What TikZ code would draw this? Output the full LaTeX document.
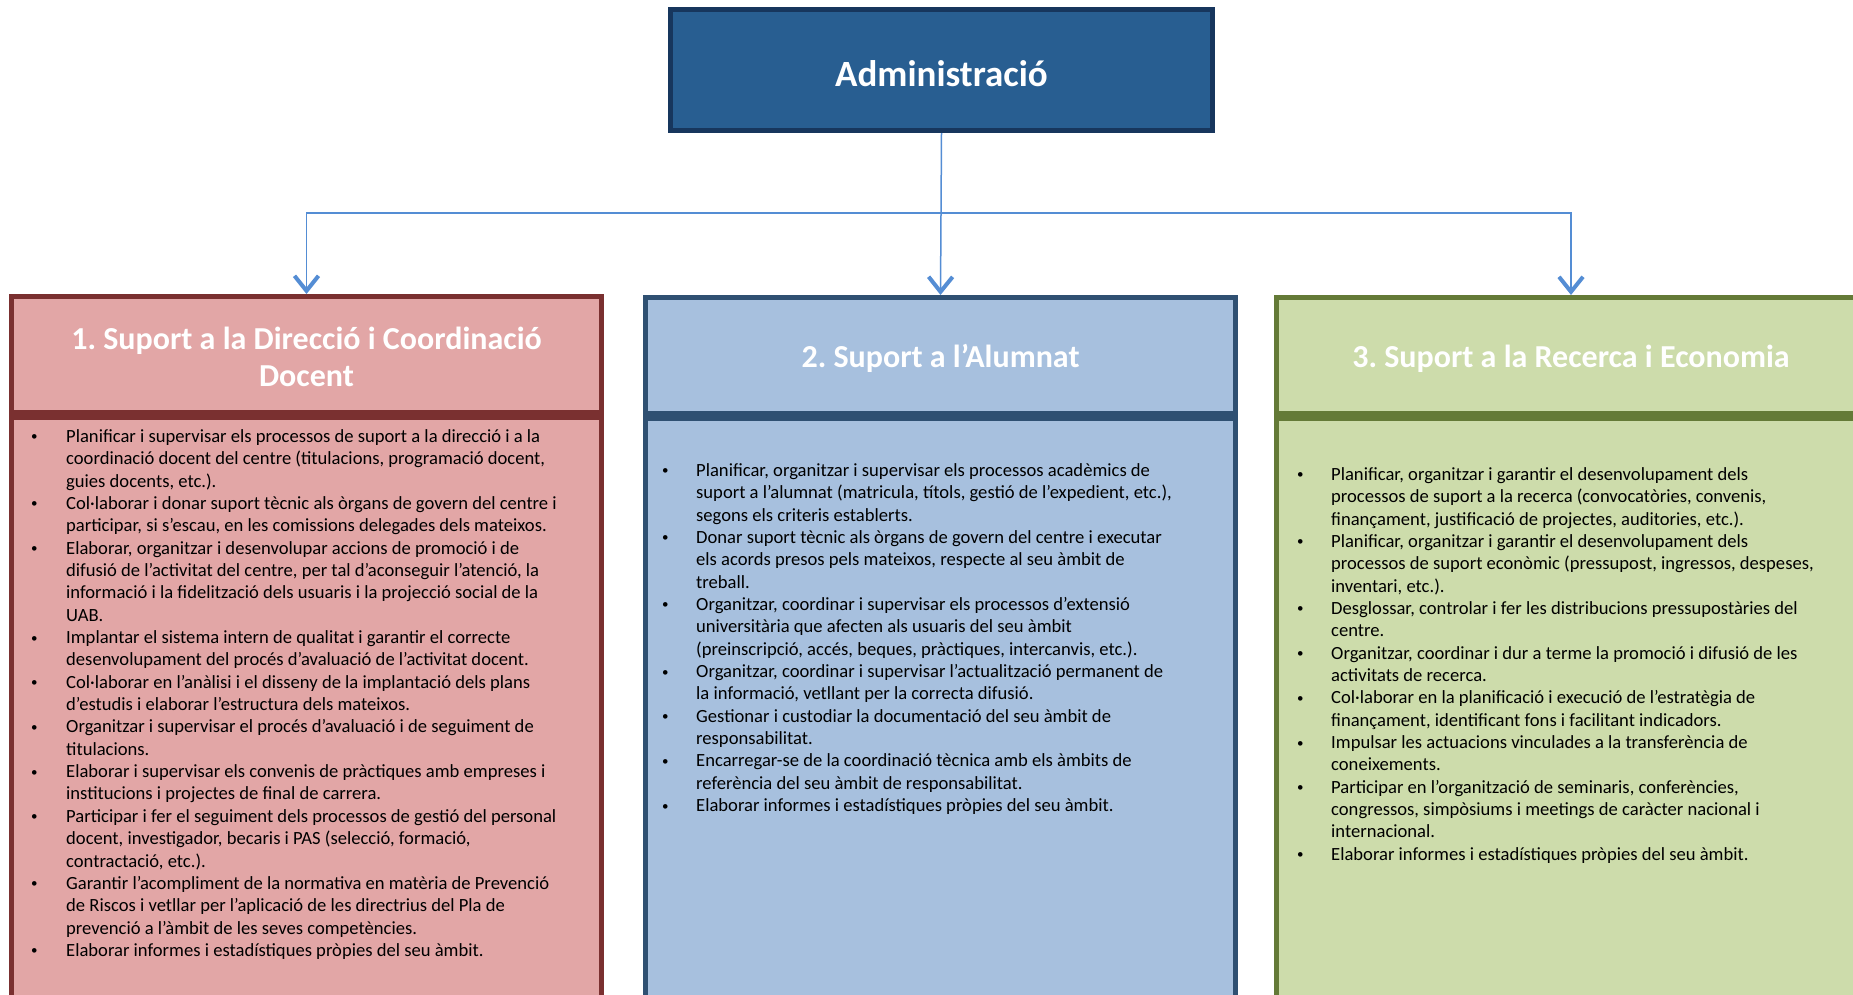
\documentclass[tikz,border=0pt]{standalone}
\usepackage{fontspec}
\setmainfont{Carlito}
\usetikzlibrary{arrows.meta,positioning}
\frenchspacing

\definecolor{admfill}{RGB}{40,94,145}
\definecolor{admline}{RGB}{23,54,93}
\definecolor{redfill}{RGB}{226,166,166}
\definecolor{redline}{RGB}{122,48,48}
\definecolor{bluefill}{RGB}{167,192,222}
\definecolor{blueline}{RGB}{47,80,114}
\definecolor{greenfill}{RGB}{205,220,171}
\definecolor{greenline}{RGB}{100,122,55}
\definecolor{linkblue}{RGB}{84,141,212}

\newcommand{\bodyfont}{\fontsize{18.6}{22.35}\selectfont}
\newcommand{\bul}{\hspace{1pt}\raisebox{1.5pt}{\fontsize{13}{13}\selectfont\textbullet}}

\tikzset{
  hdr/.style={line width=5pt,minimum width=590pt,minimum height=116pt,
    inner sep=0pt},
  hdrtext/.style={inner sep=0pt,align=center,text=white,
    font=\fontsize{32}{37}\selectfont\bfseries},
  bodybox/.style={line width=5pt,minimum width=590pt,minimum height=700pt,
    anchor=north,inner sep=0pt},
  bodytext/.style={anchor=north west,inner sep=0pt,text=black,font=\bodyfont},
  conn/.style={draw=linkblue,line width=1.5pt,
    -{Straight Barb[length=15pt,width=24pt,line width=4pt]}}
}

\begin{document}
\begin{tikzpicture}[x=1pt,y=-1pt]
\useasboundingbox (0,0) rectangle (1853,994);
\clip (0,0) rectangle (1853,994);
\fill[white] (0,0) rectangle (1853,994);

% top box
\node[draw=admline,fill=admfill,line width=5pt,minimum width=542pt,
  minimum height=121pt] (admin) at (941.5,70) {};
\node[text=white,font=\fontsize{37}{44}\selectfont\bfseries,inner sep=0pt]
  (admlabel) at ([yshift=-4pt]admin.center) {Administració};

% the three units
\node[hdr,draw=redline,fill=redfill] (hd1) at (306.5,354.5) {};
\node[bodybox,draw=redline,fill=redfill] (bd1) at (hd1.south) {};
\node[hdrtext] (hdlabel1) at ([yshift=-2.5pt]hd1.center)
  {1. Suport a la Direcció i Coordinació\\Docent};

\node[hdr,draw=blueline,fill=bluefill] (hd2) at (940.5,355.5) {};
\node[bodybox,draw=blueline,fill=bluefill] (bd2) at (hd2.south) {};
\node[hdrtext] (hdlabel2) at ([yshift=-3pt]hd2.center) {2. Suport a l’Alumnat};

\node[hdr,draw=greenline,fill=greenfill] (hd3) at (1571,355.5) {};
\node[bodybox,draw=greenline,fill=greenfill] (bd3) at (hd3.south) {};
\node[hdrtext] (hdlabel3) at ([yshift=-3pt]hd3.center)
  {3. Suport a la Recerca i Economia};

% connectors
\coordinate (bus) at (941,213);
\draw[conn] (admin.south) -- (hd2.north);
\draw[conn] (admin.south) -- (admin.south |- bus) -| (hd1.north);
\draw[conn] (admin.south) -- (admin.south |- bus) -| (hd3.north);

% lists
\node[bodytext] (list1) at (30,426.5) {\begin{tabular}{@{}p{36pt}@{}l@{}}
\bul & Planificar i supervisar els processos de suport a la direcció i a la\\
 & coordinació docent del centre (titulacions, programació docent,\\
 & guies docents, etc.).\\
\bul & Col·laborar i donar suport tècnic als òrgans de govern del centre i\\
 & participar, si s’escau, en les comissions delegades dels mateixos.\\
\bul & Elaborar, organitzar i desenvolupar accions de promoció i de\\
 & difusió de l’activitat del centre, per tal d’aconseguir l’atenció, la\\
 & informació i la fidelització dels usuaris i la projecció social de la\\
 & UAB.\\
\bul & Implantar el sistema intern de qualitat i garantir el correcte\\
 & desenvolupament del procés d’avaluació de l’activitat docent.\\
\bul & Col·laborar en l’anàlisi i el disseny de la implantació dels plans\\
 & d’estudis i elaborar l’estructura dels mateixos.\\
\bul & Organitzar i supervisar el procés d’avaluació i de seguiment de\\
 & titulacions.\\
\bul & Elaborar i supervisar els convenis de pràctiques amb empreses i\\
 & institucions i projectes de final de carrera.\\
\bul & Participar i fer el seguiment dels processos de gestió del personal\\
 & docent, investigador, becaris i PAS (selecció, formació,\\
 & contractació, etc.).\\
\bul & Garantir l’acompliment de la normativa en matèria de Prevenció\\
 & de Riscos i vetllar per l’aplicació de les directrius del Pla de\\
 & prevenció a l’àmbit de les seves competències.\\
\bul & Elaborar informes i estadístiques pròpies del seu àmbit.
\end{tabular}};

\node[bodytext] (list2) at (661,460.5) {\begin{tabular}{@{}p{35pt}@{}l@{}}
\bul & Planificar, organitzar i supervisar els processos acadèmics de\\
 & suport a l’alumnat (matricula, títols, gestió de l’expedient, etc.),\\
 & segons els criteris establerts.\\
\bul & Donar suport tècnic als òrgans de govern del centre i executar\\
 & els acords presos pels mateixos, respecte al seu àmbit de\\
 & treball.\\
\bul & Organitzar, coordinar i supervisar els processos d’extensió\\
 & universitària que afecten als usuaris del seu àmbit\\
 & (preinscripció, accés, beques, pràctiques, intercanvis, etc.).\\
\bul & Organitzar, coordinar i supervisar l’actualització permanent de\\
 & la informació, vetllant per la correcta difusió.\\
\bul & Gestionar i custodiar la documentació del seu àmbit de\\
 & responsabilitat.\\
\bul & Encarregar-se de la coordinació tècnica amb els àmbits de\\
 & referència del seu àmbit de responsabilitat.\\
\bul & Elaborar informes i estadístiques pròpies del seu àmbit.
\end{tabular}};

\node[bodytext] (list3) at (1296,464.5) {\begin{tabular}{@{}p{35pt}@{}l@{}}
\bul & Planificar, organitzar i garantir el desenvolupament dels\\
 & processos de suport a la recerca (convocatòries, convenis,\\
 & finançament, justificació de projectes, auditories, etc.).\\
\bul & Planificar, organitzar i garantir el desenvolupament dels\\
 & processos de suport econòmic (pressupost, ingressos, despeses,\\
 & inventari, etc.).\\
\bul & Desglossar, controlar i fer les distribucions pressupostàries del\\
 & centre.\\
\bul & Organitzar, coordinar i dur a terme la promoció i difusió de les\\
 & activitats de recerca.\\
\bul & Col·laborar en la planificació i execució de l’estratègia de\\
 & finançament, identificant fons i facilitant indicadors.\\
\bul & Impulsar les actuacions vinculades a la transferència de\\
 & coneixements.\\
\bul & Participar en l’organització de seminaris, conferències,\\
 & congressos, simpòsiums i meetings de caràcter nacional i\\
 & internacional.\\
\bul & Elaborar informes i estadístiques pròpies del seu àmbit.
\end{tabular}};
\end{tikzpicture}
\end{document}
